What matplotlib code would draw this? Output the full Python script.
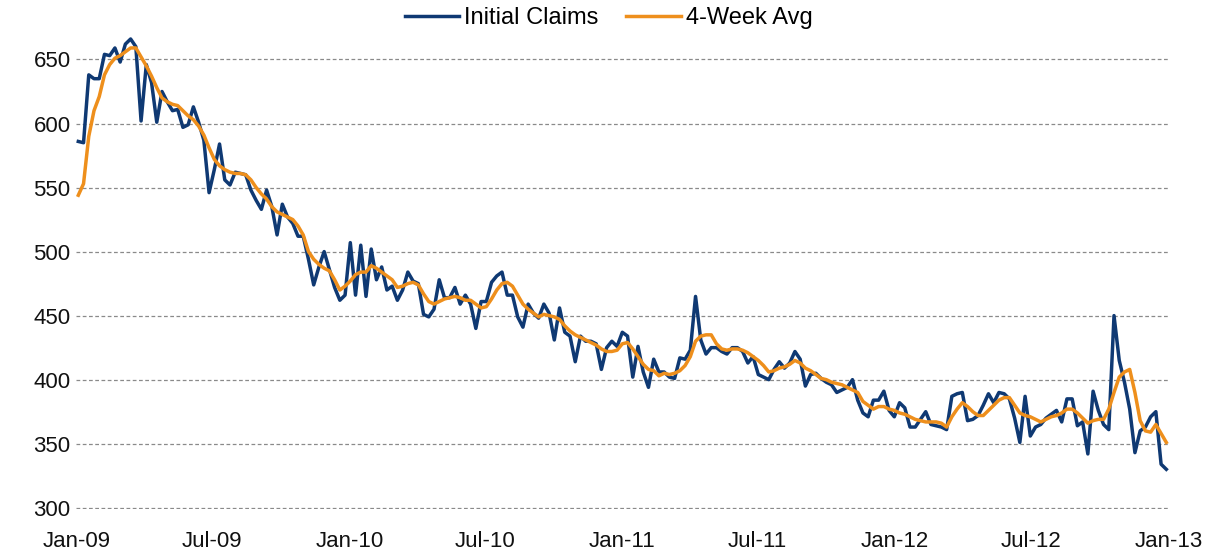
import pandas as pd
import matplotlib
matplotlib.use("Agg")
import matplotlib.pyplot as plt
import matplotlib.dates as mdates

# weekly initial claims (thousands), weeks ending Jan 3 2009 .. Dec 29 2012
claims = [
    586, 585, 638, 635, 635, 654, 653, 659, 648, 662, 666, 660, 602, 646, 632, 601,
    625, 617, 610, 611, 597, 599, 613, 601, 587, 546, 564, 584, 556, 552, 562, 561,
    560, 548, 540, 533, 548, 535, 513, 537, 527, 522, 512, 512, 494, 474, 488, 500,
    486, 472, 462, 466, 507, 466, 505, 465, 502, 478, 488, 470, 473, 462, 470, 484,
    477, 475, 451, 449, 455, 478, 464, 464, 472, 459, 466, 459, 440, 461, 461, 476,
    481, 484, 466, 466, 449, 441, 459, 452, 448, 459, 452, 431, 456, 437, 434, 414,
    434, 430, 430, 428, 408, 425, 430, 426, 437, 434, 402, 426, 406, 394, 416, 406,
    406, 402, 401, 417, 416, 423, 465, 431, 420, 425, 425, 422, 420, 425, 425, 422,
    413, 418, 404, 402, 400, 408, 414, 409, 413, 422, 416, 395, 404, 405, 401, 398,
    396, 390, 392, 394, 400, 384, 374, 371, 384, 384, 391, 376, 371, 382, 378, 363,
    363, 369, 375, 365, 364, 363, 361, 387, 389, 390, 368, 369, 372, 380, 389, 382,
    390, 389, 385, 370, 351, 387, 356, 363, 365, 370, 373, 376, 367, 385, 385, 364,
    367, 342, 391, 376, 365, 361, 450, 415, 398, 377, 343, 360, 363, 371, 375, 334,
    330,
]

avg4 = [
    544, 553, 590, 610, 621, 638, 646, 651, 653, 656, 659, 659, 652, 645, 637, 628,
    620, 617, 615, 614, 610, 606, 603, 598, 591, 581, 572, 567, 564, 562, 561, 561,
    560, 556, 550, 545, 541, 535, 531, 529, 527, 525, 520, 513, 500, 494, 490, 487,
    485, 478, 470, 473, 477, 482, 484, 484, 489, 487, 484, 481, 478, 472, 473, 475,
    476, 474, 467, 461, 459, 461, 463, 464, 465, 464, 462, 462, 459, 456, 457, 463,
    470, 475, 476, 473, 466, 459, 455, 452, 449, 451, 450, 449, 447, 442, 438, 435,
    433, 431, 429, 427, 424, 422, 422, 423, 428, 429, 424, 418, 412, 408, 407, 403,
    405, 404, 405, 407, 411, 418, 430, 434, 435, 435, 428, 424, 423, 424, 424, 423,
    421, 418, 415, 411, 406, 407, 409, 410, 412, 415, 413, 409, 407, 404, 401, 400,
    398, 397, 396, 394, 392, 390, 383, 380, 377, 379, 379, 377, 376, 374, 373, 371,
    369, 368, 367, 367, 367, 366, 363, 371, 377, 382, 379, 375, 372, 372, 376, 380,
    384, 386, 386, 380, 374, 372, 371, 369, 367, 369, 371, 372, 374, 377, 377, 374,
    370, 366, 368, 369, 369, 377, 390, 402, 406, 408, 390, 368, 360, 359, 365, 358,
    351,
]

weeks = pd.date_range("2009-01-03", periods=len(claims), freq="7D")
yticks = [300, 350, 400, 450, 500, 550, 600, 650]
xticks = pd.date_range("2009-01-01", "2013-01-01", freq="6MS")

plt.rcParams['font.family'] = ['Liberation Sans', 'DejaVu Sans']

fig = plt.figure(figsize=(12.17, 5.56), dpi=100)
ax = fig.add_axes([0.0625, 0.0845, 0.8977, 0.8615])

ax.plot(weeks, claims, color="#0F3973", lw=2.5, label="Initial Claims", zorder=3)
ax.plot(weeks, avg4, color="#EE8F1C", lw=2.5, label="4-Week Avg", zorder=4)

ax.set_ylim(299, 673)
ax.set_xlim(pd.Timestamp("2008-12-31"), pd.Timestamp("2013-01-01"))
ax.set_yticks(yticks)
ax.set_xticks(xticks)
ax.xaxis.set_major_formatter(mdates.DateFormatter("%b-%y"))

ax.grid(axis="y", color="#8a8a8a", linestyle=(0, (3, 2)), lw=0.9)
ax.grid(axis="x", visible=False)
for s in ax.spines.values():
    s.set_visible(False)
ax.tick_params(axis="both", length=0, labelsize=16, colors="#111111")
ax.tick_params(axis="y", pad=4)
ax.tick_params(axis="x", pad=16)

fig.legend(loc="upper center", bbox_to_anchor=(0.5, 1.025), ncol=2, frameon=False,
           fontsize=17, handlelength=2.3, columnspacing=1.2, handletextpad=0.2)

fig.savefig("out.png", dpi=100)
